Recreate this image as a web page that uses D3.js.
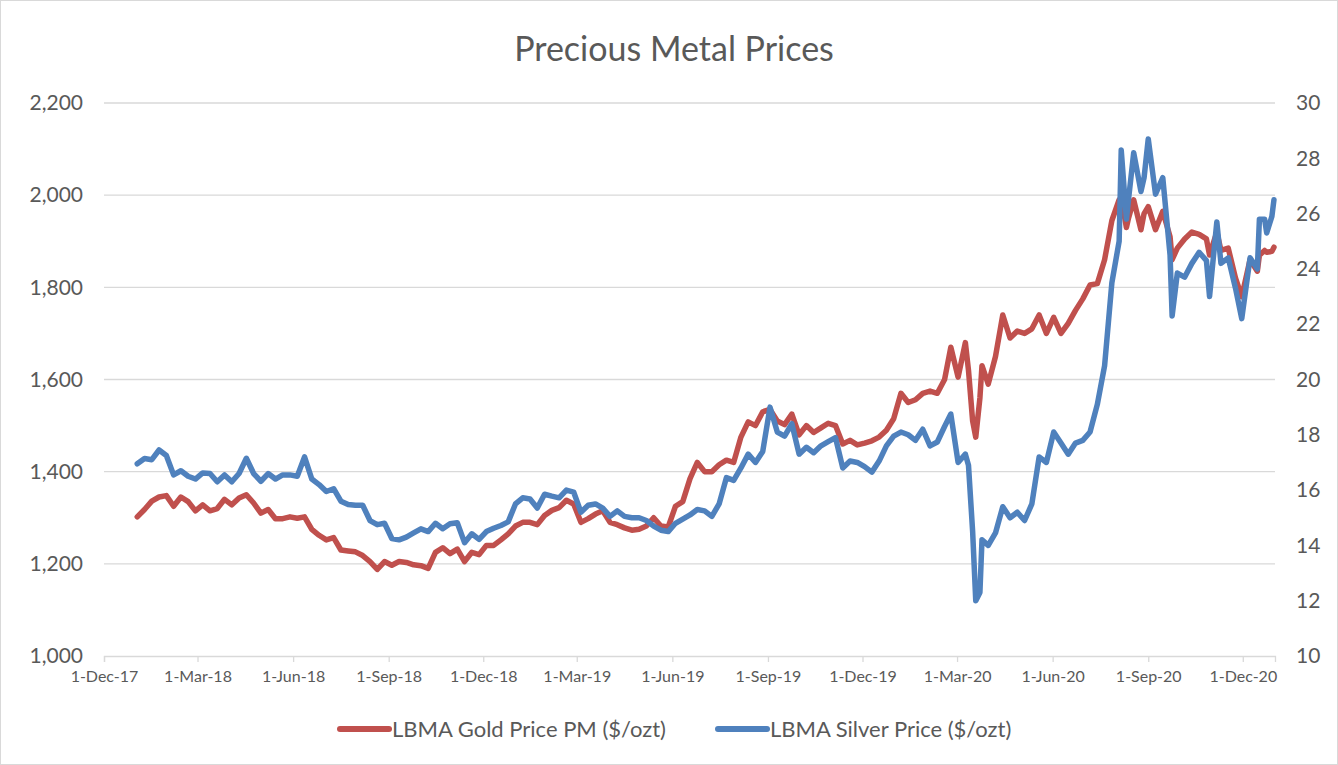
<!DOCTYPE html>
<html>
<head>
<meta charset="utf-8">
<script src="https://cdn.jsdelivr.net/npm/d3@7"></script>
<style>
  html, body { margin: 0; padding: 0; background: #fff; }
  svg { display: block; }
  text { font-family: Lato, "Open Sans", sans-serif; fill: #595959; }
</style>
</head>
<body>
<div id="chart"></div>
<script>
// Weekly-ish LBMA fixes
const dates = [
  "2018-01-02","2018-01-09","2018-01-16","2018-01-23","2018-01-30","2018-02-06","2018-02-13","2018-02-20","2018-02-27",
  "2018-03-06","2018-03-13","2018-03-20","2018-03-27","2018-04-03","2018-04-10","2018-04-17","2018-04-24","2018-05-01",
  "2018-05-08","2018-05-15","2018-05-22","2018-05-29","2018-06-05","2018-06-12","2018-06-19","2018-06-26","2018-07-03",
  "2018-07-10","2018-07-17","2018-07-24","2018-07-31","2018-08-07","2018-08-14","2018-08-21","2018-08-28","2018-09-04",
  "2018-09-11","2018-09-18","2018-09-25","2018-10-02","2018-10-09","2018-10-16","2018-10-23","2018-10-30","2018-11-06",
  "2018-11-13","2018-11-20","2018-11-27","2018-12-04","2018-12-11","2018-12-18","2018-12-25","2019-01-01","2019-01-08",
  "2019-01-15","2019-01-22","2019-01-29","2019-02-05","2019-02-12","2019-02-19","2019-02-26","2019-03-05","2019-03-12",
  "2019-03-19","2019-03-26","2019-04-02","2019-04-09","2019-04-16","2019-04-23","2019-04-30","2019-05-07","2019-05-14",
  "2019-05-21","2019-05-28","2019-06-04","2019-06-11","2019-06-18","2019-06-25","2019-07-02","2019-07-09","2019-07-16",
  "2019-07-23","2019-07-30","2019-08-06","2019-08-13","2019-08-20","2019-08-27","2019-09-03","2019-09-10","2019-09-17",
  "2019-09-24","2019-10-01","2019-10-08","2019-10-15","2019-10-22","2019-10-29","2019-11-05","2019-11-12","2019-11-19",
  "2019-11-26","2019-12-03","2019-12-10","2019-12-17","2019-12-24","2019-12-31","2020-01-07","2020-01-14","2020-01-21",
  "2020-01-28","2020-02-04","2020-02-11","2020-02-18","2020-02-24","2020-03-02","2020-03-09","2020-03-12","2020-03-16",
  "2020-03-19","2020-03-23","2020-03-25","2020-03-31","2020-04-07","2020-04-14","2020-04-21","2020-04-28","2020-05-05",
  "2020-05-12","2020-05-19","2020-05-26","2020-06-02","2020-06-09","2020-06-16","2020-06-23","2020-06-30","2020-07-07",
  "2020-07-14","2020-07-21","2020-07-28","2020-08-04","2020-08-06","2020-08-11","2020-08-13","2020-08-18","2020-08-25",
  "2020-08-28","2020-09-01","2020-09-08","2020-09-15","2020-09-22","2020-09-24","2020-09-29","2020-10-06","2020-10-13",
  "2020-10-20","2020-10-27","2020-10-30","2020-11-06","2020-11-10","2020-11-17","2020-11-24","2020-11-30","2020-12-08",
  "2020-12-15","2020-12-17","2020-12-22","2020-12-24","2020-12-29","2020-12-31"
];

const gold = [
  1302,1318,1336,1345,1348,1325,1345,1335,1315,
  1328,1315,1320,1340,1328,1343,1350,1332,1310,
  1318,1298,1298,1302,1299,1302,1275,1262,1252,
  1257,1230,1228,1226,1218,1205,1188,1205,1197,
  1205,1203,1198,1196,1190,1225,1235,1222,1232,
  1205,1225,1220,1240,1240,1252,1265,1282,1290,
  1290,1285,1305,1316,1322,1338,1330,1290,1298,
  1308,1315,1290,1285,1278,1273,1275,1282,1300,
  1282,1280,1325,1335,1385,1420,1400,1400,1415,
  1425,1420,1475,1508,1500,1530,1535,1510,1502,
  1525,1480,1500,1485,1495,1505,1500,1460,1468,
  1458,1462,1467,1475,1490,1515,1570,1550,1556,
  1570,1575,1570,1600,1670,1605,1680,1620,1510,
  1475,1560,1630,1590,1650,1740,1690,1705,1700,
  1710,1740,1700,1735,1700,1722,1750,1775,1805,
  1808,1860,1945,1990,1995,1930,1950,1990,1925,
  1960,1975,1925,1965,1910,1860,1885,1905,1920,
  1915,1905,1870,1920,1880,1885,1820,1780,1860,
  1835,1870,1880,1876,1878,1887
];

const silver = [
  16.95,17.14,17.10,17.45,17.25,16.55,16.70,16.50,16.40,
  16.62,16.60,16.30,16.55,16.30,16.60,17.15,16.60,16.32,
  16.60,16.40,16.55,16.55,16.50,17.20,16.40,16.20,15.95,
  16.05,15.60,15.48,15.45,15.45,14.90,14.75,14.80,14.25,
  14.20,14.30,14.45,14.60,14.50,14.80,14.60,14.78,14.82,
  14.10,14.42,14.22,14.50,14.62,14.72,14.85,15.50,15.72,
  15.68,15.35,15.85,15.78,15.72,16.00,15.93,15.20,15.45,
  15.50,15.35,15.05,15.25,15.05,15.00,15.00,14.90,14.70,
  14.55,14.50,14.80,14.95,15.10,15.30,15.25,15.05,15.50,
  16.45,16.35,16.80,17.30,17.00,17.40,19.00,18.10,17.95,
  18.40,17.30,17.55,17.35,17.60,17.75,17.90,16.80,17.05,
  17.00,16.85,16.65,17.05,17.60,17.95,18.10,18.00,17.80,
  18.20,17.60,17.74,18.30,18.75,17.00,17.30,16.90,14.50,
  12.00,12.30,14.20,14.00,14.45,15.40,15.00,15.20,14.90,
  15.50,17.20,17.00,18.10,17.70,17.30,17.70,17.80,18.10,
  19.10,20.50,23.50,25.00,28.30,25.80,26.50,28.20,26.80,
  27.30,28.70,26.70,27.30,24.50,22.30,23.85,23.70,24.20,
  24.60,24.30,23.00,25.70,24.20,24.40,23.30,22.20,24.40,
  24.00,25.80,25.80,25.30,25.90,26.50
];

const goldTicks = [1000, 1200, 1400, 1600, 1800, 2000, 2200];
const silverTicks = [10, 12, 14, 16, 18, 20, 22, 24, 26, 28, 30];
const dateTicks = ["2017-12-01","2018-03-01","2018-06-01","2018-09-01","2018-12-01","2019-03-01","2019-06-01",
  "2019-09-01","2019-12-01","2020-03-01","2020-06-01","2020-09-01","2020-12-01"];
const seriesNames = ["LBMA Gold Price PM ($/ozt)", "LBMA Silver Price ($/ozt)"];

var W = 1338, H = 765;
var margin = {top: 103, right: 63, bottom: 109, left: 104};
var width = W - margin.left - margin.right,
    height = H - margin.top - margin.bottom;

var parse = d3.timeParse("%Y-%m-%d");
var rows = dates.map((d, i) => ({date: parse(d), gold: gold[i], silver: silver[i]}));

var svg = d3.select("#chart").append("svg")
    .attr("width", W)
    .attr("height", H);

// chart border
svg.append("rect")
    .attr("x", 0.5).attr("y", 0.5)
    .attr("width", W - 1).attr("height", H - 1)
    .attr("fill", "#fff")
    .attr("stroke", "#D9D9D9");

var g = svg.append("g")
    .attr("transform", `translate(${margin.left},${margin.top})`);

var x = d3.scaleTime()
    .domain([parse("2017-12-01"), parse("2021-01-01")])
    .range([0, width]);

var yL = d3.scaleLinear().domain([1000, 2200]).range([height, 0]);
var yR = d3.scaleLinear().domain([10, 30]).range([height, 0]);

// gridlines
g.selectAll(".grid")
    .data(goldTicks.slice(1))
    .enter().append("line")
    .attr("class", "grid")
    .attr("x1", 0).attr("x2", width)
    .attr("y1", d => yL(d)).attr("y2", d => yL(d))
    .attr("stroke", "#D9D9D9")
    .attr("stroke-width", 1.3);

// left axis
g.append("g")
    .call(d3.axisLeft(yL).tickValues(goldTicks).tickSize(0).tickPadding(21)
        .tickFormat(d3.format(",")))
    .call(a => a.select(".domain").remove())
    .selectAll("text")
    .style("font-size", "21px");

// right axis
g.append("g")
    .attr("transform", `translate(${width},0)`)
    .call(d3.axisRight(yR).tickValues(silverTicks).tickSize(0).tickPadding(21))
    .call(a => a.select(".domain").remove())
    .selectAll("text")
    .style("font-size", "21px");

// bottom axis
var xAxis = g.append("g")
    .attr("transform", `translate(0,${height})`)
    .call(d3.axisBottom(x).tickValues(dateTicks.map(parse)).tickSize(6).tickPadding(9)
        .tickFormat(d3.timeFormat("%-d-%b-%y")))
    .call(a => a.select(".domain").attr("stroke", "#D9D9D9").attr("stroke-width", 1.3))
    .call(a => a.selectAll(".tick line").attr("stroke", "#D9D9D9").attr("stroke-width", 1.3));
xAxis.selectAll("text").style("font-size", "16px");

// lines
var colors = ["#C0504D", "#4F81BD"];
var goldLine = d3.line().x(d => x(d.date)).y(d => yL(d.gold));
var silverLine = d3.line().x(d => x(d.date)).y(d => yR(d.silver));

g.append("path")
    .datum(rows)
    .attr("fill", "none")
    .attr("stroke", colors[0])
    .attr("stroke-width", 5.5)
    .attr("stroke-linejoin", "round")
    .attr("stroke-linecap", "round")
    .attr("d", goldLine);

g.append("path")
    .datum(rows)
    .attr("fill", "none")
    .attr("stroke", colors[1])
    .attr("stroke-width", 5.5)
    .attr("stroke-linejoin", "round")
    .attr("stroke-linecap", "round")
    .attr("d", silverLine);

// title
svg.append("text")
    .attr("x", 674).attr("y", 61)
    .attr("text-anchor", "middle")
    .style("font-size", "34px")
    .text("Precious Metal Prices");

// legend
var legendPos = [338, 716];
seriesNames.forEach(function(name, i) {
    var lg = svg.append("g").attr("transform", `translate(${legendPos[i]},729)`);
    lg.append("line")
        .attr("x1", 2).attr("x2", 51)
        .attr("stroke", colors[i])
        .attr("stroke-width", 6)
        .attr("stroke-linecap", "round");
    lg.append("text")
        .attr("x", 54).attr("y", 8)
        .style("font-size", "22px")
        .text(name);
});
</script>
</body>
</html>
